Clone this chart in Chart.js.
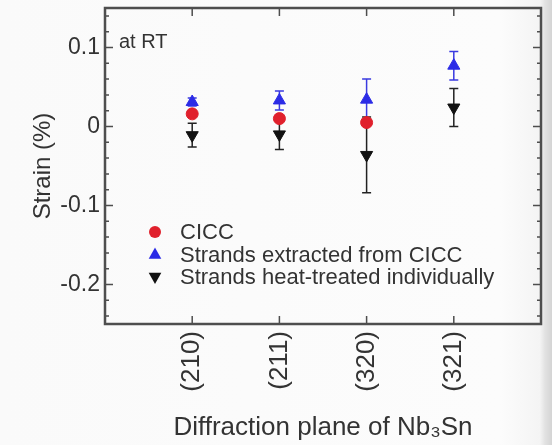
<!DOCTYPE html>
<html>
<head>
<meta charset="utf-8">
<script src="https://cdn.jsdelivr.net/npm/chart.js@4/dist/chart.umd.min.js"></script>
<style>
  html, body { margin: 0; padding: 0; }
  body {
    width: 552px; height: 445px; overflow: hidden;
    background: linear-gradient(to right, #fafafa 0px, #fcfcfc 500px, #f4f4f4 540px, #e2e2e2 545px, #d4d4d4 552px);
  }
  canvas { display: block; }
</style>
</head>
<body>
<canvas id="chart" width="552" height="445"></canvas>
<script>
// Diffraction planes of Nb3Sn
const CATEGORIES = ['(210)', '(211)', '(320)', '(321)'];

// Series names
const SERIES_NAMES = [
  'CICC',
  'Strands extracted from CICC',
  'Strands heat-treated individually'
];

// Strain (%) and its uncertainty for each plane
const CICC = [0.016, 0.010, 0.005, null];
const CICC_ERR = [0.003, 0.003, 0.003, null];
const EXTRACTED = [0.031, 0.033, 0.034, 0.077];
const EXTRACTED_ERR = [0.005, 0.012, 0.026, 0.018];
const INDIVIDUAL = [-0.011, -0.010, -0.036, 0.024];
const INDIVIDUAL_ERR = [0.015, 0.019, 0.048, 0.024];

// Axis ticks
const Y_TICKS = [-0.2, -0.1, 0, 0.1];
const Y_MINOR_STEP = 0.02;
const Y_MIN = -0.25, Y_MAX = 0.15;

const FONT = '"Liberation Sans", Arial, Helvetica, sans-serif';
const TEXT = '#333333';
const FRAME = '#4e4e4e';

function toPoints(values) {
  return values.map((v, i) => ({ x: i + 1, y: v }));
}

const datasets = [
  { label: SERIES_NAMES[0], data: toPoints(CICC), err: CICC_ERR,
    pointStyle: 'circle', pointRadius: 6, pointRotation: 0,
    backgroundColor: '#e0202c', borderColor: '#e0202c', barColor: '#d83030', order: 3 },
  { label: SERIES_NAMES[1], data: toPoints(EXTRACTED), err: EXTRACTED_ERR,
    pointStyle: 'triangle', pointRadius: 7, pointRotation: 0,
    backgroundColor: '#2b2be6', borderColor: '#2b2be6', barColor: '#3a3ae0', order: 2 },
  { label: SERIES_NAMES[2], data: toPoints(INDIVIDUAL), err: INDIVIDUAL_ERR,
    pointStyle: 'triangle', pointRadius: 7, pointRotation: 180,
    backgroundColor: '#111111', borderColor: '#111111', barColor: '#222222', order: 1 }
];
datasets.forEach(d => { d.borderWidth = 1; d.showLine = false; d.pointHoverRadius = d.pointRadius; });

// Vertical error bars with caps, drawn underneath the markers
const errorBars = {
  id: 'errorBars',
  beforeDatasetsDraw(chart) {
    const { ctx } = chart;
    const xs = chart.scales.x, ys = chart.scales.y;
    ctx.save();
    ctx.lineWidth = 1.5;
    chart.data.datasets.forEach(ds => {
      ctx.strokeStyle = ds.barColor;
      ds.data.forEach((p, i) => {
        const e = ds.err[i];
        if (p.y == null || e == null) return;
        const x = xs.getPixelForValue(p.x);
        const yTop = ys.getPixelForValue(p.y + e);
        const yBot = ys.getPixelForValue(p.y - e);
        ctx.beginPath();
        ctx.moveTo(x, yTop); ctx.lineTo(x, yBot);
        ctx.moveTo(x - 4.5, yTop); ctx.lineTo(x + 4.5, yTop);
        ctx.moveTo(x - 4.5, yBot); ctx.lineTo(x + 4.5, yBot);
        ctx.stroke();
      });
    });
    ctx.restore();
  }
};

function drawMarker(ctx, style, rotation, r, x, y, color) {
  ctx.save();
  ctx.fillStyle = color;
  ctx.translate(x, y);
  ctx.rotate(rotation * Math.PI / 180);
  ctx.beginPath();
  if (style === 'circle') {
    ctx.arc(0, 0, r, 0, Math.PI * 2);
  } else {
    ctx.moveTo(0, -r);
    ctx.lineTo(r * 0.9, r * 0.6);
    ctx.lineTo(-r * 0.9, r * 0.6);
    ctx.closePath();
  }
  ctx.fill();
  ctx.restore();
}

// Box frame, inward ticks, legend and annotation
const frame = {
  id: 'frame',
  afterDraw(chart) {
    const { ctx, chartArea: a } = chart;
    const xs = chart.scales.x, ys = chart.scales.y;
    ctx.save();
    ctx.strokeStyle = FRAME;
    ctx.lineWidth = 1.5;
    ctx.beginPath();
    // y ticks on left and right edges
    const start = Math.ceil(Y_MIN / Y_MINOR_STEP);
    const end = Math.floor(Y_MAX / Y_MINOR_STEP);
    for (let k = start; k <= end; k++) {
      const v = Math.round(k * Y_MINOR_STEP * 1000) / 1000;
      if (v <= Y_MIN || v >= Y_MAX) continue;
      const y = ys.getPixelForValue(v);
      const major = Y_TICKS.some(t => Math.abs(t - v) < 1e-6);
      const len = major ? 8 : 4;
      ctx.moveTo(a.left, y); ctx.lineTo(a.left + len, y);
      ctx.moveTo(a.right, y); ctx.lineTo(a.right - len, y);
    }
    // x ticks on top and bottom edges
    CATEGORIES.forEach((c, i) => {
      const x = xs.getPixelForValue(i + 1);
      ctx.moveTo(x, a.bottom); ctx.lineTo(x, a.bottom - 8);
      ctx.moveTo(x, a.top); ctx.lineTo(x, a.top + 8);
    });
    ctx.stroke();

    ctx.lineWidth = 2.5;
    ctx.strokeRect(a.left, a.top, a.right - a.left, a.bottom - a.top);

    // legend
    ctx.font = '22px ' + FONT;
    ctx.fillStyle = TEXT;
    ctx.textBaseline = 'middle';
    ctx.textAlign = 'left';
    chart.data.datasets.forEach((ds, i) => {
      const y = a.bottom - 92 + i * 22.5;
      const mx = a.left + 50;
      drawMarker(ctx, ds.pointStyle, ds.pointRotation, ds.pointRadius, mx, y, ds.backgroundColor);
      ctx.fillStyle = TEXT;
      ctx.fillText(ds.label, a.left + 75, y + 1);
    });

    // condition label
    ctx.font = '20px ' + FONT;
    ctx.fillText('at RT', a.left + 14, a.top + 34);
    ctx.restore();
  }
};

new Chart(document.getElementById('chart'), {
  type: 'scatter',
  data: { datasets },
  options: {
    responsive: false,
    animation: false,
    devicePixelRatio: 1,
    layout: { padding: { left: 0, top: 7, right: 11, bottom: 0 } },
    plugins: {
      legend: { display: false },
      tooltip: { enabled: false }
    },
    scales: {
      x: {
        type: 'linear',
        min: 0, max: 5,
        grid: { display: false, drawTicks: false },
        border: { display: false },
        afterBuildTicks(scale) {
          scale.ticks = CATEGORIES.map((c, i) => ({ value: i + 1 }));
        },
        afterFit(scale) {
          scale.height = 121;
          scale.paddingLeft = 0; scale.paddingRight = 0;
        },
        ticks: {
          autoSkip: false,
          minRotation: 90, maxRotation: 90,
          padding: 7,
          color: TEXT,
          font: { family: FONT, size: 26 },
          callback: v => CATEGORIES[v - 1] ?? ''
        },
        title: {
          display: true,
          text: 'Diffraction plane of Nb\u2083Sn',
          color: TEXT,
          font: { family: FONT, size: 26 },
          padding: { top: 0, bottom: 2 }
        }
      },
      y: {
        type: 'linear',
        min: Y_MIN, max: Y_MAX,
        grid: { display: false, drawTicks: false },
        border: { display: false },
        afterBuildTicks(scale) {
          scale.ticks = Y_TICKS.map(v => ({ value: v }));
        },
        afterFit(scale) {
          scale.width = 105;
          scale.paddingTop = 0; scale.paddingBottom = 0;
        },
        ticks: {
          padding: 5,
          color: TEXT,
          font: { family: FONT, size: 23 },
          callback: v => (Math.abs(v) < 1e-9 ? '0' : String(Math.round(v * 10) / 10))
        },
        title: {
          display: true,
          text: 'Strain (%)',
          color: TEXT,
          font: { family: FONT, size: 24 },
          padding: { top: 29, bottom: 0 }
        }
      }
    }
  },
  plugins: [errorBars, frame]
});
</script>
</body>
</html>
